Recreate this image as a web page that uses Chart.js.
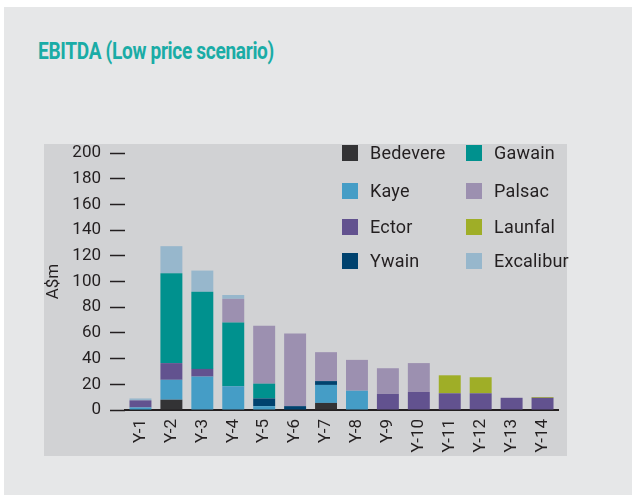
<!DOCTYPE html>
<html>
<head>
<meta charset="utf-8">
<script src="https://cdn.jsdelivr.net/npm/chart.js@4"></script>
<style>
  html, body { margin: 0; padding: 0; background: #fff; width: 632px; height: 495px; overflow: hidden; }
  body { position: relative; font-family: Roboto, "Noto Sans", sans-serif; color: #231f20; }
  #card { position: absolute; left: 4px; top: 7px; right: 0; bottom: 0; background: #e6e7e8; }
  #title { position: absolute; left: 38px; top: 37px; font-size: 24px; font-weight: bold; color: #1aaca6;
           letter-spacing: -0.4px; white-space: nowrap; transform: scaleX(0.795); transform-origin: left top; }
  #panel { position: absolute; left: 44px; top: 144px; width: 523px; height: 312px; background: #d1d2d4; }
  #chart { position: absolute; left: 44px; top: 144px; }
  #legend { position: absolute; left: 342px; top: 145px; }
  .item { position: absolute; width: 120px; height: 16px; font-size: 18px; line-height: 16px; white-space: nowrap; }
  .item i { position: absolute; left: 0; top: 0; width: 16px; height: 16px; }
  .item span { position: absolute; left: 28px; top: 0; letter-spacing: 0.2px; }
</style>
</head>
<body>
<div id="card"></div>
<div id="title">EBITDA (Low price scenario)</div>
<div id="panel"></div>
<canvas id="chart" width="523" height="312"></canvas>
<div id="legend"></div>

<script>
// ================= DATA =================
const categories = ["Y-1", "Y-2", "Y-3", "Y-4", "Y-5", "Y-6", "Y-7", "Y-8", "Y-9", "Y-10", "Y-11", "Y-12", "Y-13", "Y-14"];
const yTicks = [0, 20, 40, 60, 80, 100, 120, 140, 160, 180, 200];

// values in A$m, stacked bottom -> top in this order
const bedevere  = [0,   8,    0,    0,    0,   0,    5.5,  0,    0,    0,    0,    0,    0,   0];
const kaye      = [2,   15.5, 26,   18.5, 3,   0,    14,   15,   0,    0,    0,    0,    0,   0];
const ector     = [5.5, 13,   6,    0,    0,   0,    0,    0,    12.5, 14,   13,   13,   9.5, 9.5];
const ywain     = [0,   0,    0,    0,    6,   3,    3,    0,    0,    0,    0,    0,    0,   0];
const gawain    = [0,   70,   60,   49.5, 11.5, 0,   0,    0,    0,    0,    0,    0,    0,   0];
const palsac    = [0,   0,    0,    18.5, 45,  56.5, 22.5, 24,   20,   22.5, 0,    0,    0,   0];
const launfal   = [0,   0,    0,    0,    0,   0,    0,    0,    0,    0,    14,   12.5, 0,   0.6];
const excalibur = [1.5, 21,   16.5, 3,    0,   0,    0,    0,    0,    0,    0,    0,    0,   0];

const series = [
  { label: "Bedevere",  data: bedevere,  color: "#333335" },
  { label: "Kaye",      data: kaye,      color: "#459dc6" },
  { label: "Ector",     data: ector,     color: "#62528f" },
  { label: "Ywain",     data: ywain,     color: "#00426e" },
  { label: "Gawain",    data: gawain,    color: "#00918e" },
  { label: "Palsac",    data: palsac,    color: "#9c90b0" },
  { label: "Launfal",   data: launfal,   color: "#9fae27" },
  { label: "Excalibur", data: excalibur, color: "#97b7cc" }
];

// legend layout: two columns, four rows
const legendOrder = ["Bedevere", "Gawain", "Kaye", "Palsac", "Ector", "Launfal", "Ywain", "Excalibur"];

// ================= LEGEND =================
const legendEl = document.getElementById("legend");
legendOrder.forEach((name, i) => {
  const s = series.find(x => x.label === name);
  const item = document.createElement("div");
  item.className = "item";
  item.style.left = (i % 2) * 124 + "px";
  item.style.top = [0, 38, 74, 108][Math.floor(i / 2)] + "px";
  item.innerHTML = `<i style="background:${s.color}"></i><span>${s.label}</span>`;
  legendEl.appendChild(item);
});

// ================= CHART =================
const dark = "#231f20";

new Chart(document.getElementById("chart"), {
  type: "bar",
  data: {
    labels: categories,
    datasets: series.map(s => ({
      label: s.label,
      data: s.data,
      backgroundColor: s.color,
      borderWidth: 0,
      categoryPercentage: 1,
      barPercentage: 0.71
    }))
  },
  options: {
    responsive: false,
    devicePixelRatio: 1,
    animation: false,
    layout: { padding: { top: 9, right: 9, left: 0, bottom: 0 } },
    plugins: {
      legend: { display: false },
      tooltip: { enabled: false }
    },
    scales: {
      x: {
        stacked: true,
        grid: { display: false, drawTicks: false },
        border: { display: true, color: dark, width: 2 },
        ticks: {
          color: dark,
          font: { family: "Roboto", size: 17 },
          minRotation: 90,
          maxRotation: 90,
          padding: 9
        },
        afterFit: scale => {
          scale.height = 46;
          scale.paddingLeft = 0;
          scale.paddingRight = 0;
        }
      },
      y: {
        stacked: true,
        min: 0,
        max: 200,
        afterBuildTicks: scale => { scale.ticks = yTicks.map(v => ({ value: v })); },
        grid: { drawOnChartArea: false, drawTicks: true, tickLength: 15, color: dark, tickWidth: 1.5 },
        border: { display: false },
        ticks: {
          color: dark,
          font: { family: "Roboto", size: 17 },
          padding: 9
        },
        title: {
          display: true,
          text: "A$m",
          color: dark,
          font: { family: "Roboto", size: 17 },
          padding: { top: 0, bottom: 0 }
        },
        afterFit: scale => {
          scale.width = 81;
          scale.paddingTop = 0;
          scale.paddingBottom = 0;
        }
      }
    }
  }
});
</script>
</body>
</html>
